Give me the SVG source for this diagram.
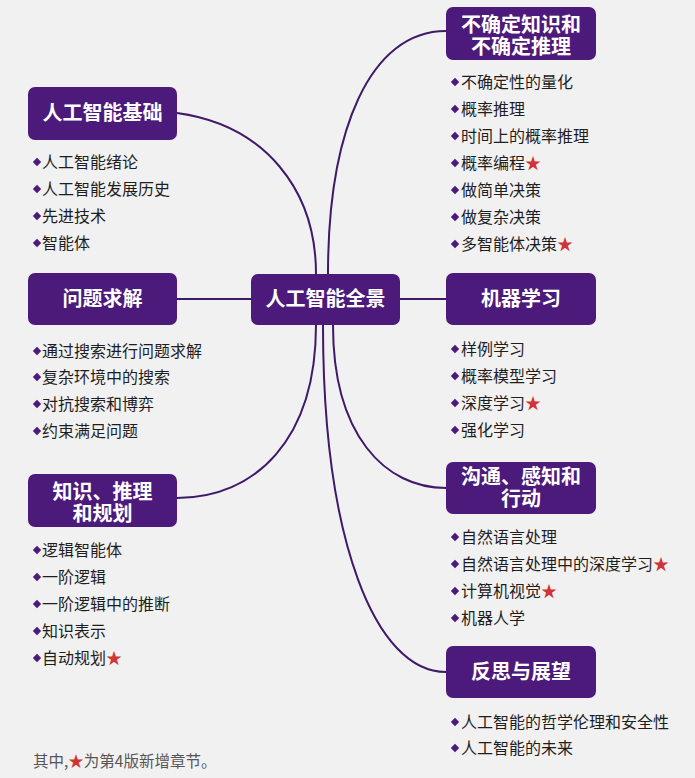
<svg xmlns="http://www.w3.org/2000/svg" width="695" height="778" viewBox="0 0 695 778">
<style>
.bg{fill:#f2f1f2}
.box{fill:#4b1a7a}
.t{font-family:"Noto Sans CJK SC","Noto Sans",sans-serif;font-weight:700;font-size:20px;fill:#fff;text-anchor:middle}
.it{font-family:"Noto Sans CJK SC","Noto Sans",sans-serif;font-size:16px;fill:#1e1e1e}
.star{fill:#d03535}
.note{font-family:"Noto Sans CJK SC","Noto Sans",sans-serif;font-size:15.5px;fill:#555}
.c{fill:none;stroke:#3f1a68;stroke-width:2}
.dm{fill:#4b1a7a}
</style>
<defs>
<path id="d" d="M0,-4.2 L4.2,0 L0,4.2 L-4.2,0 Z"/>
</defs>
<rect class="bg" width="695" height="778"/>
<g id="connectors">
<path class="c" d="M177,113 C265,125 316,190 316,274"/>
<path class="c" d="M328,274 C328,130 370,31 446,31"/>
<path class="c" d="M177,299 L251,299"/>
<path class="c" d="M400,299 L446,299"/>
<path class="c" d="M316,325 C316,440 255,498 177,498"/>
<path class="c" d="M333,325 C333,435 385,488 446,488"/>
<path class="c" d="M323,325 C323,540 375,672 446,672"/>
</g>
<g id="center">
<rect class="box" x="251" y="274" width="149" height="51" rx="7"/>
<text class="t" x="325.5" y="306">人工智能全景</text>
</g>
<g id="n1">
<rect class="box" x="28" y="87" width="149" height="53" rx="7"/>
<text class="t" x="102.5" y="120" font-size="21">人工智能基础</text>
<g class="dm"><use href="#d" x="37" y="162"/><use href="#d" x="37" y="189"/><use href="#d" x="37" y="216"/><use href="#d" x="37" y="243"/></g>
<text class="it" x="42" y="168">人工智能绪论</text>
<text class="it" x="42" y="195">人工智能发展历史</text>
<text class="it" x="42" y="222">先进技术</text>
<text class="it" x="42" y="249">智能体</text>
</g>
<g id="n2">
<rect class="box" x="28" y="273" width="149" height="52" rx="7"/>
<text class="t" x="102.5" y="306" font-size="21">问题求解</text>
<g class="dm"><use href="#d" x="37" y="351"/><use href="#d" x="37" y="377"/><use href="#d" x="37" y="404"/><use href="#d" x="37" y="431"/></g>
<text class="it" x="42" y="357">通过搜索进行问题求解</text>
<text class="it" x="42" y="383">复杂环境中的搜索</text>
<text class="it" x="42" y="410">对抗搜索和博弈</text>
<text class="it" x="42" y="437">约束满足问题</text>
</g>
<g id="n3">
<rect class="box" x="28" y="474" width="149" height="53" rx="7"/>
<text class="t"><tspan x="102.5" y="499">知识、推理</tspan><tspan x="102.5" y="521">和规划</tspan></text>
<g class="dm"><use href="#d" x="37" y="550"/><use href="#d" x="37" y="577"/><use href="#d" x="37" y="604"/><use href="#d" x="37" y="631"/><use href="#d" x="37" y="658"/></g>
<text class="it" x="42" y="556">逻辑智能体</text>
<text class="it" x="42" y="583">一阶逻辑</text>
<text class="it" x="42" y="610">一阶逻辑中的推断</text>
<text class="it" x="42" y="637">知识表示</text>
<text class="it" x="42" y="664">自动规划<tspan class="star">★</tspan></text>
</g>
<g id="n4">
<rect class="box" x="446" y="7" width="150" height="53" rx="7"/>
<text class="t"><tspan x="521" y="32">不确定知识和</tspan><tspan x="521" y="54">不确定推理</tspan></text>
<g class="dm"><use href="#d" x="455" y="82"/><use href="#d" x="455" y="109"/><use href="#d" x="455" y="136"/><use href="#d" x="455" y="163"/><use href="#d" x="455" y="190"/><use href="#d" x="455" y="217"/><use href="#d" x="455" y="244"/></g>
<text class="it" x="461" y="88">不确定性的量化</text>
<text class="it" x="461" y="115">概率推理</text>
<text class="it" x="461" y="142">时间上的概率推理</text>
<text class="it" x="461" y="169">概率编程<tspan class="star">★</tspan></text>
<text class="it" x="461" y="196">做简单决策</text>
<text class="it" x="461" y="223">做复杂决策</text>
<text class="it" x="461" y="250">多智能体决策<tspan class="star">★</tspan></text>
</g>
<g id="n5">
<rect class="box" x="446" y="273" width="150" height="52" rx="7"/>
<text class="t" x="521" y="306" font-size="21">机器学习</text>
<g class="dm"><use href="#d" x="455" y="349"/><use href="#d" x="455" y="376"/><use href="#d" x="455" y="403"/><use href="#d" x="455" y="430"/></g>
<text class="it" x="461" y="355">样例学习</text>
<text class="it" x="461" y="382">概率模型学习</text>
<text class="it" x="461" y="409">深度学习<tspan class="star">★</tspan></text>
<text class="it" x="461" y="436">强化学习</text>
</g>
<g id="n6">
<rect class="box" x="446" y="462" width="150" height="52" rx="7"/>
<text class="t"><tspan x="521" y="484">沟通、感知和</tspan><tspan x="521" y="506">行动</tspan></text>
<g class="dm"><use href="#d" x="455" y="537"/><use href="#d" x="455" y="564"/><use href="#d" x="455" y="591"/><use href="#d" x="455" y="618"/></g>
<text class="it" x="461" y="543">自然语言处理</text>
<text class="it" x="461" y="570">自然语言处理中的深度学习<tspan class="star">★</tspan></text>
<text class="it" x="461" y="597">计算机视觉<tspan class="star">★</tspan></text>
<text class="it" x="461" y="624">机器人学</text>
</g>
<g id="n7">
<rect class="box" x="446" y="646" width="150" height="52" rx="7"/>
<text class="t" x="521" y="679" font-size="21">反思与展望</text>
<g class="dm"><use href="#d" x="455" y="722"/><use href="#d" x="455" y="748"/></g>
<text class="it" x="461" y="728">人工智能的哲学伦理和安全性</text>
<text class="it" x="461" y="754">人工智能的未来</text>
</g>
<g id="note">
<text class="note" x="33" y="767">其中,<tspan class="star">★</tspan>为第4版新增章节。</text>
</g>
</svg>
